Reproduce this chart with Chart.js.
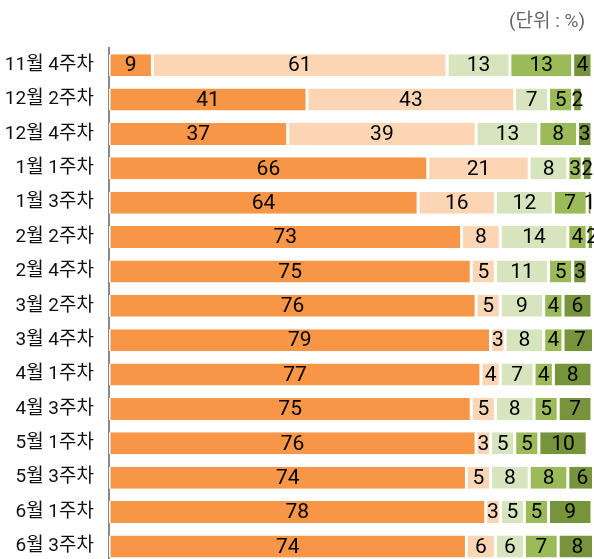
<!DOCTYPE html>
<html>
<head>
<meta charset="utf-8">
<script src="https://cdn.jsdelivr.net/npm/chart.js@4"></script>
<style>
  body { margin: 0; overflow: hidden; background: #fff; }
  #wrap { position: relative; width: 594px; height: 582px; }
  #unit { position: absolute; right: 9px; top: 5px; font: 19px Roboto, 'Noto Sans CJK KR', sans-serif; color: #666; }
  canvas { display: block; }
</style>
</head>
<body>
<div id="wrap">
  <div id="unit">(단위 : %)</div>
  <canvas id="myChart" width="594" height="582"></canvas>
</div>
<script>
var labels = ['11월 4주차', '12월 2주차', '12월 4주차', '1월 1주차', '1월 3주차', '2월 2주차', '2월 4주차',
              '3월 2주차', '3월 4주차', '4월 1주차', '4월 3주차', '5월 1주차', '5월 3주차', '6월 1주차', '6월 3주차'];
var s1 = [9, 41, 37, 66, 64, 73, 75, 76, 79, 77, 75, 76, 74, 78, 74];
var s2 = [61, 43, 39, 21, 16, 8, 5, 5, 3, 4, 5, 3, 5, 3, 6];
var s3 = [13, 7, 13, 8, 12, 14, 11, 9, 8, 7, 8, 5, 8, 5, 6];
var s4 = [13, 5, 8, 3, 7, 4, 5, 4, 4, 4, 5, 5, 8, 5, 7];
var s5 = [4, 2, 3, 2, 1, 2, 3, 6, 7, 8, 7, 10, 6, 9, 8];

var colors = ['#F79646', '#FCD5B5', '#D7E4BD', '#9BBB59', '#77933C'];
var font = "Roboto, 'Noto Sans CJK KR', sans-serif";

// draw the value in the middle of each segment
var valueLabels = {
    id: 'valueLabels',
    afterDatasetsDraw: function(chart) {
        var ctx = chart.ctx;
        ctx.save();
        ctx.font = '21px ' + font;
        ctx.fillStyle = '#000';
        ctx.textAlign = 'center';
        ctx.textBaseline = 'middle';
        chart.data.datasets.forEach(function(ds, i) {
            chart.getDatasetMeta(i).data.forEach(function(bar, j) {
                var p = bar.getProps(['x', 'y', 'base'], true);
                ctx.fillText(ds.data[j], (p.x + p.base) / 2, p.y + 1);
            });
        });
        ctx.restore();
    }
};

var ds = [s1, s2, s3, s4, s5].map(function(d, i) {
    return {
        data: d,
        backgroundColor: colors[i],
        borderColor: '#fff',
        borderWidth: { left: 1.5, right: 1.5, top: 0, bottom: 0 },
        borderSkipped: false,
        categoryPercentage: 1,
        barPercentage: 0.64
    };
});

var myChart = new Chart(document.getElementById('myChart').getContext('2d'), {
    type: 'bar',
    data: { labels: labels, datasets: ds },
    plugins: [valueLabels],
    options: {
        indexAxis: 'y',
        responsive: false,
        animation: false,
        layout: { padding: { top: 48, right: 2, bottom: 0, left: 0 } },
        plugins: { legend: { display: false }, tooltip: { enabled: false } },
        scales: {
            x: { stacked: true, min: 0, max: 100, display: false },
            y: {
                stacked: true,
                grid: { display: false },
                border: { color: '#888', width: 2 },
                ticks: { color: '#111', font: { family: font, size: 19 }, padding: 7 },
                afterFit: function(s) { s.width = 109; }
            }
        }
    }
});
</script>
</body>
</html>
